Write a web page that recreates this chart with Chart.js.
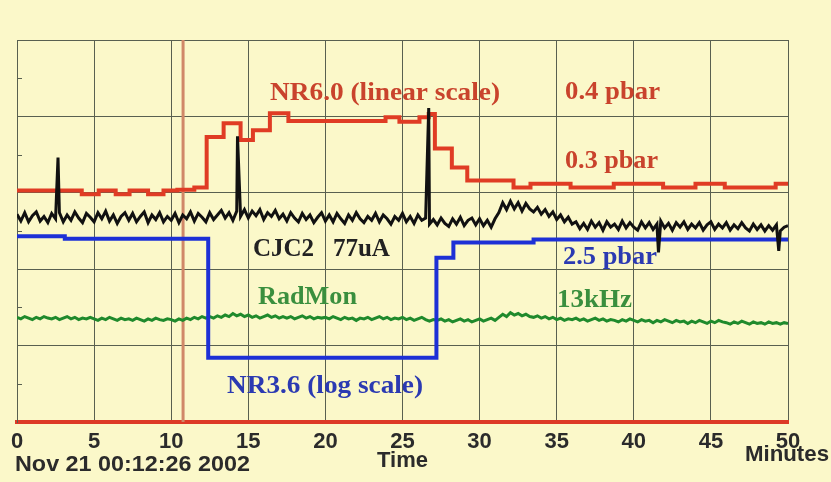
<!DOCTYPE html>
<html>
<head>
<meta charset="utf-8">
<title>NR6.0 / CJC2 / RadMon / NR3.6</title>
<script src="https://cdn.jsdelivr.net/npm/chart.js@4.4.1/dist/chart.umd.min.js"></script>
<style>
  html, body { margin: 0; padding: 0; background: #fbf8c9; }
  canvas { display: block; }
</style>
</head>
<body>
<canvas id="trend" width="831" height="482"></canvas>
<script>
// time axis: minutes after Nov 21 00:12:26 2002
const SAMPLE_STEP = 0.25;

// NR6.0 gauge (linear scale), level changes
const nr60Minutes = [0, 4.2, 5.3, 6.4, 7.3, 8.5, 9.5, 10.4, 11.5,
  12.3, 13.4, 14.5, 15.3, 16.4, 17.6, 23.9, 24.8, 26.1, 26.7, 27.1,
  28.2, 29.2, 32.2, 33.3, 35.9, 38.7, 41.9, 44.0, 45.9, 49.2, 50];
const nr60Levels = [3.03, 2.98, 3.03, 2.98, 3.03, 2.98, 3.03, 3.04, 3.07,
  3.73, 3.91, 3.69, 3.82, 4.04, 3.94, 3.99, 3.93, 3.99, 4.03, 3.58,
  3.33, 3.16, 3.07, 3.12, 3.07, 3.12, 3.07, 3.12, 3.07, 3.12, 3.12];

// NR3.6 gauge (log scale), level changes
const nr36Minutes = [0, 3.1, 12.4, 27.2, 28.3, 33.5, 50];
const nr36Levels = [2.43, 2.40, 0.84, 2.15, 2.35, 2.39, 2.39];

// CJC2 beam current, one sample per SAMPLE_STEP
const cjcValues = [
  2.72, 2.63, 2.74, 2.62, 2.70, 2.75, 2.63, 2.69, 2.61, 2.73,
  2.66, 2.74, 2.62, 2.71, 2.64, 2.75, 2.67, 2.61, 2.73, 2.68,
  2.62, 2.74, 2.66, 2.76, 2.63, 2.71, 2.60, 2.69, 2.74, 2.64,
  2.73, 2.62, 2.69, 2.75, 2.61, 2.71, 2.65, 2.74, 2.62, 2.69,
  2.64, 2.73, 2.61, 2.71, 2.66, 2.75, 2.63, 2.73, 2.68, 2.62,
  2.74, 2.65, 2.71, 2.77, 2.67, 2.74, 2.64, 2.76, 2.69, 2.78,
  2.67, 2.76, 2.70, 2.78, 2.65, 2.74, 2.69, 2.77, 2.66, 2.72,
  2.63, 2.74, 2.67, 2.62, 2.73, 2.65, 2.71, 2.61, 2.68, 2.74,
  2.63, 2.71, 2.62, 2.73, 2.66, 2.60, 2.71, 2.64, 2.74, 2.66,
  2.61, 2.69, 2.64, 2.73, 2.62, 2.71, 2.66, 2.59, 2.69, 2.64,
  2.73, 2.62, 2.69, 2.60, 2.71, 2.64, 2.67, 2.59, 2.65,
  2.58, 2.67, 2.60, 2.56, 2.66, 2.59, 2.68, 2.57, 2.64, 2.67,
  2.58, 2.66, 2.57, 2.64, 2.55, 2.66,
  2.74, 2.87, 2.78, 2.89, 2.79, 2.87, 2.76, 2.86, 2.79, 2.75,
  2.81, 2.72, 2.78, 2.69, 2.75, 2.65, 2.71, 2.62, 2.68, 2.59,
  2.62, 2.53, 2.60, 2.52, 2.63, 2.55, 2.61, 2.51, 2.62, 2.55,
  2.59, 2.52, 2.63, 2.54, 2.61, 2.55, 2.51, 2.62, 2.54, 2.61,
  2.52, 2.59, 2.63, 2.54, 2.60, 2.51, 2.61, 2.55, 2.62, 2.52,
  2.59, 2.54, 2.61, 2.51, 2.58, 2.62, 2.52, 2.59, 2.54, 2.61,
  2.51, 2.58, 2.53, 2.61, 2.54, 2.50, 2.59, 2.52, 2.58, 2.50,
  2.57, 2.51, 2.58, 2.50, 2.55, 2.57
];
const cjcSpikeMinutes = [2.66, 14.3, 26.7, 41.6, 49.4];
const cjcSpikeValues = [3.46, 3.74, 4.11, 2.22, 2.24];

// RadMon rate, one sample per SAMPLE_STEP
const radmonValues = [
  1.37, 1.35, 1.38, 1.36, 1.34, 1.37, 1.35, 1.38, 1.36, 1.35,
  1.37, 1.34, 1.36, 1.38, 1.35, 1.37, 1.34, 1.36, 1.35, 1.37,
  1.35, 1.33, 1.36, 1.34, 1.37, 1.35, 1.33, 1.36, 1.34, 1.35,
  1.33, 1.36, 1.34, 1.32, 1.35, 1.33, 1.36, 1.34, 1.33, 1.35,
  1.34, 1.32, 1.35, 1.33, 1.36, 1.34, 1.37, 1.35, 1.38, 1.36,
  1.38, 1.36, 1.39, 1.37, 1.40, 1.38, 1.42, 1.39, 1.41, 1.38,
  1.40, 1.37, 1.39, 1.36, 1.38, 1.40, 1.37, 1.39, 1.36, 1.38,
  1.36, 1.38, 1.35, 1.37, 1.39, 1.36, 1.38, 1.35, 1.37, 1.36,
  1.37, 1.35, 1.38, 1.36, 1.34, 1.37, 1.35, 1.36, 1.33, 1.36,
  1.35, 1.37, 1.34, 1.36, 1.38, 1.35, 1.37, 1.34, 1.36, 1.35,
  1.37, 1.34, 1.36, 1.33, 1.35, 1.37, 1.34, 1.32, 1.34,
  1.33, 1.35, 1.32, 1.34, 1.31, 1.33, 1.35, 1.32, 1.34, 1.31,
  1.33, 1.35, 1.32, 1.34, 1.36, 1.33,
  1.37, 1.41, 1.38, 1.43, 1.40, 1.42, 1.39, 1.41, 1.38, 1.37,
  1.39, 1.36, 1.38, 1.35, 1.37, 1.34, 1.36, 1.33, 1.35, 1.34,
  1.36, 1.33, 1.35, 1.32, 1.34, 1.36, 1.33, 1.35, 1.32, 1.34,
  1.33, 1.31, 1.34, 1.32, 1.35, 1.33, 1.31, 1.34, 1.32, 1.33,
  1.30, 1.33, 1.31, 1.34, 1.32, 1.30, 1.33, 1.31, 1.32, 1.29,
  1.32, 1.30, 1.33, 1.31, 1.29, 1.32, 1.30, 1.33, 1.31, 1.30,
  1.28, 1.31, 1.29, 1.32, 1.30, 1.28, 1.31, 1.29, 1.30, 1.28,
  1.31, 1.29, 1.30, 1.28, 1.30, 1.29
];

// cursor line
const markerMinute = 10.77;

const GRID = '#596050';
const SERIF = '"Liberation Serif", "DejaVu Serif", serif';
const SANS = '"Liberation Sans", Arial, sans-serif';

// trace captions, anchored in data units at the text baseline
const captions = [
  { text: 'NR6.0 (linear scale)', minute: 16.41, value: 4.21, color: '#c9432c', width: 230 },
  { text: '0.4 pbar', minute: 35.54, value: 4.23, color: '#c9432c', width: 95 },
  { text: '0.3 pbar', minute: 35.54, value: 3.32, color: '#c9432c', width: 93 },
  { text: 'CJC2   77uA', minute: 15.30, value: 2.17, color: '#222222', width: 137 },
  { text: '2.5 pbar', minute: 35.41, value: 2.07, color: '#2b3ab2', width: 94 },
  { text: 'RadMon', minute: 15.63, value: 1.55, color: '#3a8f3e', width: 99 },
  { text: '13kHz', minute: 35.02, value: 1.50, color: '#3a8f3e', width: 75 },
  { text: 'NR3.6 (log scale)', minute: 13.62, value: 0.38, color: '#2b3ab2', width: 196 }
];

const toPoints = (xs, ys) => xs.map((x, i) => ({ x: x, y: ys[i] }));

const cjcPoints = cjcValues.map((v, i) => ({ x: i * SAMPLE_STEP, y: v }));
cjcSpikeMinutes.forEach((m, k) => cjcPoints.push({ x: m, y: cjcSpikeValues[k] }));
cjcPoints.sort((a, b) => a.x - b.x);

const radmonPoints = radmonValues.map((v, i) => ({ x: i * SAMPLE_STEP, y: v }));

// small marks on the left edge between grid rows, plus all text
const overlay = {
  id: 'overlay',
  afterDraw(chart) {
    const { ctx, chartArea, scales: { x, y } } = chart;
    ctx.save();
    ctx.strokeStyle = GRID;
    ctx.lineWidth = 1;
    for (let v = 0.5; v < 5; v += 1) {
      const py = Math.round(y.getPixelForValue(v)) + 0.5;
      ctx.beginPath();
      ctx.moveTo(chartArea.left, py);
      ctx.lineTo(chartArea.left + 5, py);
      ctx.stroke();
    }

    const fitText = (text, px, py, width) => {
      const w = ctx.measureText(text).width;
      ctx.save();
      ctx.translate(px, py);
      ctx.scale(width / w, 1);
      ctx.fillText(text, 0, 0);
      ctx.restore();
    };

    ctx.textBaseline = 'alphabetic';
    ctx.textAlign = 'left';
    ctx.font = 'bold 26px ' + SERIF;
    captions.forEach(c => {
      ctx.fillStyle = c.color;
      fitText(c.text, x.getPixelForValue(c.minute), y.getPixelForValue(c.value), c.width);
    });

    ctx.font = 'bold 22px ' + SANS;
    ctx.fillStyle = '#2b2b2b';
    fitText('Nov 21 00:12:26 2002', 15, chartArea.bottom + 49, 235);
    fitText('Minutes', 745, chartArea.bottom + 39, 84);
    ctx.restore();
  }
};

new Chart(document.getElementById('trend'), {
  type: 'line',
  data: {
    datasets: [
      {
        label: 'CJC2',
        data: cjcPoints,
        borderColor: '#111111',
        borderWidth: 3
      },
      {
        label: 'NR6.0',
        data: toPoints(nr60Minutes, nr60Levels),
        borderColor: '#e03c24',
        borderWidth: 4,
        stepped: 'before'
      },
      {
        label: 'NR3.6',
        data: toPoints(nr36Minutes, nr36Levels),
        borderColor: '#1d30d6',
        borderWidth: 4,
        stepped: 'before'
      },
      {
        label: 'RadMon',
        data: radmonPoints,
        borderColor: '#1f8a2c',
        borderWidth: 3
      },
      {
        label: 'cursor',
        data: [{ x: markerMinute, y: 0 }, { x: markerMinute, y: 5 }],
        borderColor: '#d08868',
        borderWidth: 3
      }
    ]
  },
  options: {
    responsive: false,
    animation: false,
    events: [],
    layout: { padding: { left: 17, right: 43, top: 40, bottom: 10 } },
    elements: {
      point: { radius: 0 },
      line: { tension: 0, borderJoinStyle: 'miter' }
    },
    plugins: {
      legend: { display: false },
      tooltip: { enabled: false }
    },
    scales: {
      x: {
        type: 'linear',
        min: 0,
        max: 50,
        ticks: {
          stepSize: 5,
          padding: 9,
          color: '#2b2b2b',
          font: { family: SANS, size: 22, weight: 'bold', lineHeight: 1 },
          maxRotation: 0
        },
        grid: { color: GRID, lineWidth: 1, drawTicks: false },
        border: { display: true, color: '#dd3a26', width: 4 },
        title: {
          display: true,
          text: 'Time',
          color: '#2b2b2b',
          font: { family: SANS, size: 22, weight: 'bold', lineHeight: 1 },
          padding: { top: -12, bottom: 0 }
        }
      },
      y: {
        min: 0,
        max: 5,
        ticks: { display: false, stepSize: 1 },
        grid: { color: GRID, lineWidth: 1, drawTicks: false },
        border: { display: true, color: GRID, width: 1 }
      }
    }
  },
  plugins: [overlay]
});
</script>
</body>
</html>
